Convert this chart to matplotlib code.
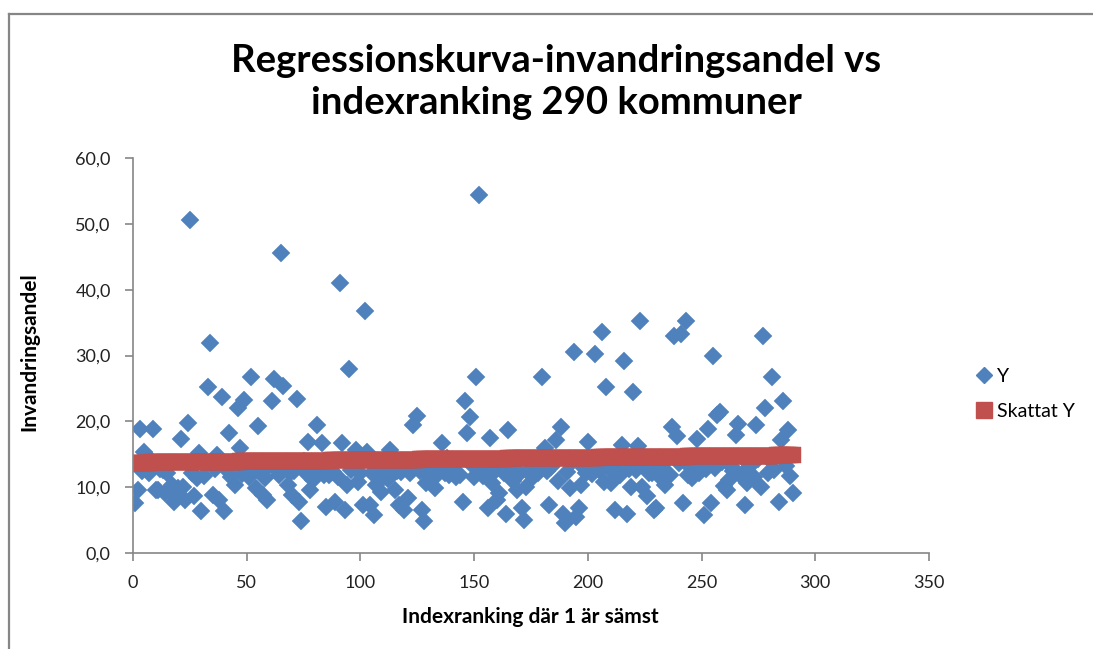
import numpy as np
from matplotlib import pyplot as plt
from matplotlib.lines import Line2D

# invandringsandel per kommun, sorterad efter indexranking 1..290
y_vals = [
    7.6, 9.6, 18.8, 12.4, 15.4, 13.5, 12.1, 14.2, 18.8, 9.6,
    9.5, 12.8, 12.6, 9.1, 12.2, 13.4, 10.3, 7.8, 8.5, 9.8,
    17.3, 10.0, 8.1, 19.7, 50.6, 12.2, 8.6, 11.4, 15.2, 6.4,
    11.7, 13.8, 25.2, 31.9, 8.8, 12.8, 14.9, 8.1, 23.7, 6.4,
    12.7, 18.3, 11.6, 13.4, 10.3, 22.0, 15.9, 12.0, 23.3, 13.1,
    11.6, 26.7, 13.8, 9.8, 19.3, 12.5, 8.8, 11.4, 8.1, 13.2,
    23.1, 26.4, 12.8, 11.9, 45.5, 25.4, 13.5, 10.3, 12.1, 8.8,
    12.4, 23.4, 7.8, 4.8, 13.9, 12.1, 16.9, 9.6, 11.1, 13.0,
    19.5, 13.2, 16.7, 11.8, 7.0, 11.9, 13.7, 12.3, 7.8, 11.5,
    41.0, 16.7, 6.5, 10.3, 27.9, 12.6, 13.3, 15.7, 10.8, 12.1,
    7.3, 36.7, 15.4, 7.3, 12.2, 5.8, 10.3, 13.4, 9.3, 11.9,
    12.7, 11.2, 15.7, 13.2, 9.6, 12.4, 7.3, 12.3, 6.5, 13.6,
    8.3, 12.1, 19.5, 14.0, 20.8, 12.4, 6.5, 4.8, 10.6, 13.1,
    11.5, 13.5, 9.8, 12.0, 13.8, 16.7, 12.2, 14.4, 11.9, 13.2,
    12.5, 11.6, 14.1, 11.8, 7.8, 23.1, 18.2, 20.6, 13.3, 11.6,
    26.7, 54.4, 12.9, 11.7, 14.0, 6.8, 17.4, 10.6, 12.4, 8.1,
    9.1, 13.2, 12.1, 6.0, 18.7, 12.7, 11.0, 13.9, 9.6, 12.1,
    6.8, 5.0, 10.1, 12.6, 14.1, 11.5, 13.4, 12.1, 14.3, 26.8,
    15.9, 12.4, 7.3, 13.0, 13.7, 17.1, 10.9, 19.1, 6.0, 4.5,
    12.3, 9.8, 13.8, 30.6, 5.5, 6.8, 10.3, 13.1, 12.1, 16.9,
    13.9, 12.0, 30.2, 14.5, 12.6, 33.5, 10.8, 25.2, 13.2, 10.7,
    12.1, 6.5, 13.6, 11.9, 16.4, 29.1, 6.0, 12.8, 10.1, 24.4,
    12.6, 16.2, 35.3, 10.1, 13.5, 8.6, 12.2, 12.1, 6.5, 6.8,
    13.3, 11.4, 12.7, 10.3, 14.2, 11.9, 19.2, 32.9, 17.7, 13.7,
    33.3, 7.6, 35.2, 11.9, 13.0, 11.4, 14.1, 17.3, 12.1, 13.4,
    5.8, 12.8, 18.8, 7.6, 29.9, 12.9, 20.9, 21.4, 13.8, 10.2,
    9.6, 11.1, 13.2, 12.4, 17.9, 19.6, 11.9, 14.5, 7.3, 10.6,
    13.0, 13.8, 11.6, 19.5, 14.3, 10.1, 32.9, 22.0, 12.1, 14.1,
    26.8, 12.6, 14.8, 7.8, 17.2, 23.1, 13.2, 18.7, 11.7, 9.1,
]
rank = np.arange(1, len(y_vals) + 1)

# skattat Y = linjär regression av Y mot ranking
coef = np.polyfit(rank, y_vals, 1)
y_hat = np.polyval(coef, rank)

title = 'Regressionskurva-invandringsandel vs\nindexranking 290 kommuner'
xlabel = 'Indexranking där 1 är sämst'
ylabel = 'Invandringsandel'
blue = '#4F81BD'
red = '#C0504D'
axcol = '#868686'

plt.rcParams['font.family'] = ['Lato', 'DejaVu Sans']

W, H = 1093, 649
fig = plt.figure(figsize=(W / 100, H / 100), dpi=100)
ax = fig.add_axes([133 / W, (H - 553) / H, (929 - 133) / W, (553 - 158) / H])

ax.plot(rank, y_vals, 'D', ms=9.5, color=blue, mec=blue, mew=0.3, ls='none', label='Y')
ax.plot(rank, y_hat, 's', ms=11, color=red, mec=red, mew=0.3, ls='none', label='Skattat Y')

ax.set_xlim(0, 350)
ax.set_ylim(0, 60)
ax.set_xticks(range(0, 351, 50))
ax.set_yticks(range(0, 61, 10))
ax.set_yticklabels(['%d,0' % v for v in range(0, 61, 10)])
for s in ['top', 'right']:
    ax.spines[s].set_visible(False)
for s in ['left', 'bottom']:
    ax.spines[s].set_color(axcol)
    ax.spines[s].set_linewidth(1.2)
ax.tick_params(colors=axcol, length=6, width=1.2, labelcolor='#222222', labelsize=13)
ax.tick_params(axis='x', pad=10)
ax.tick_params(axis='y', pad=10)

fig.text(29 / W, 1 - 352 / H, ylabel, rotation=90, ha='center', va='center',
         fontsize=15, fontweight='bold')
fig.text(530 / W, 1 - 617 / H, xlabel, ha='center', va='center',
         fontsize=15, fontweight='bold')
fig.text(556 / W, 1 - 82 / H, title, ha='center', va='center',
         fontsize=27.5, fontweight='bold', linespacing=1.3)

handles = [Line2D([], [], marker='D', ms=8, color=blue, ls='none'),
           Line2D([], [], marker='s', ms=12, color=red, ls='none')]
fig.legend(handles, ['Y', 'Skattat Y'], loc='center left',
           bbox_to_anchor=(958 / W, 1 - 394 / H), frameon=False,
           fontsize=14, handletextpad=0.0, labelspacing=0.95, handlelength=1.3,
           borderpad=0.2)

# ram runt diagrammet
fig.add_artist(Line2D([9 / W, 9 / W], [0, 1 - 14 / H], color=axcol, lw=1.6,
                      transform=fig.transFigure))
fig.add_artist(Line2D([9 / W, 1], [1 - 14 / H, 1 - 14 / H], color=axcol, lw=1.6,
                      transform=fig.transFigure))

fig.savefig('out.png', dpi=100)
